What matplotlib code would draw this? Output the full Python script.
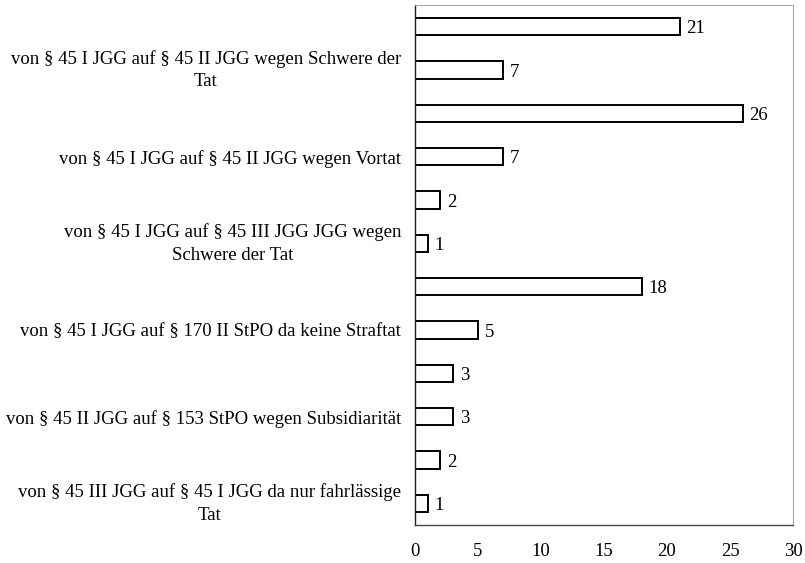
import matplotlib
matplotlib.use("Agg")
import matplotlib.pyplot as plt

plt.rcParams['font.family'] = ['Liberation Serif', 'DejaVu Serif']

categories = [
    "",
    "von § 45 I JGG auf § 45 II JGG wegen Schwere der\nTat",
    "",
    "von § 45 I JGG auf § 45 II JGG wegen Vortat",
    "",
    "von § 45 I JGG auf § 45 III JGG JGG wegen\nSchwere der Tat",
    "",
    "von § 45 I JGG auf § 170 II StPO da keine Straftat",
    "",
    "von § 45 II JGG auf § 153 StPO wegen Subsidiarität",
    "",
    "von § 45 III JGG auf § 45 I JGG da nur fahrlässige\nTat",
]
values = [21, 7, 26, 7, 2, 1, 18, 5, 3, 3, 2, 1]
x_ticks = [0, 5, 10, 15, 20, 25, 30]

fig = plt.figure(figsize=(8.05, 5.63), dpi=100)
ax = fig.add_axes([0.5155, 0.0675, 0.4696, 0.9235])

pos = list(range(len(values)))
bars = ax.barh(pos, values, height=0.4, color='white', edgecolor='black', linewidth=1.4)
for b, v in zip(bars, values):
    ax.annotate(str(v), (b.get_width(), b.get_y() + b.get_height() / 2),
                xytext=(5, 0), textcoords='offset points',
                ha='left', va='center_baseline', fontsize=13.5)

ax.set_ylim(len(values) - 0.5, -0.5)
ax.set_xlim(0, 30)
ax.set_xticks(x_ticks)
ax.set_xticklabels([str(t) for t in x_ticks], fontsize=13.5)
ax.set_yticks(pos)
ax.set_yticklabels(categories, fontsize=13.5, multialignment='center', linespacing=1.45)
for lbl in ax.get_yticklabels():
    if "\n" in lbl.get_text():
        lbl.set_verticalalignment('center')
ax.tick_params(axis='both', length=0)
ax.tick_params(axis='x', pad=13)
ax.tick_params(axis='y', pad=10)

ax.spines['left'].set_color('#222222')
ax.spines['left'].set_linewidth(1.0)
ax.spines['bottom'].set_color('#444444')
ax.spines['bottom'].set_linewidth(1.0)
for s in ('top', 'right'):
    ax.spines[s].set_color('#aaaaaa')
    ax.spines[s].set_linewidth(0.8)

fig.savefig("out.png", dpi=100)
